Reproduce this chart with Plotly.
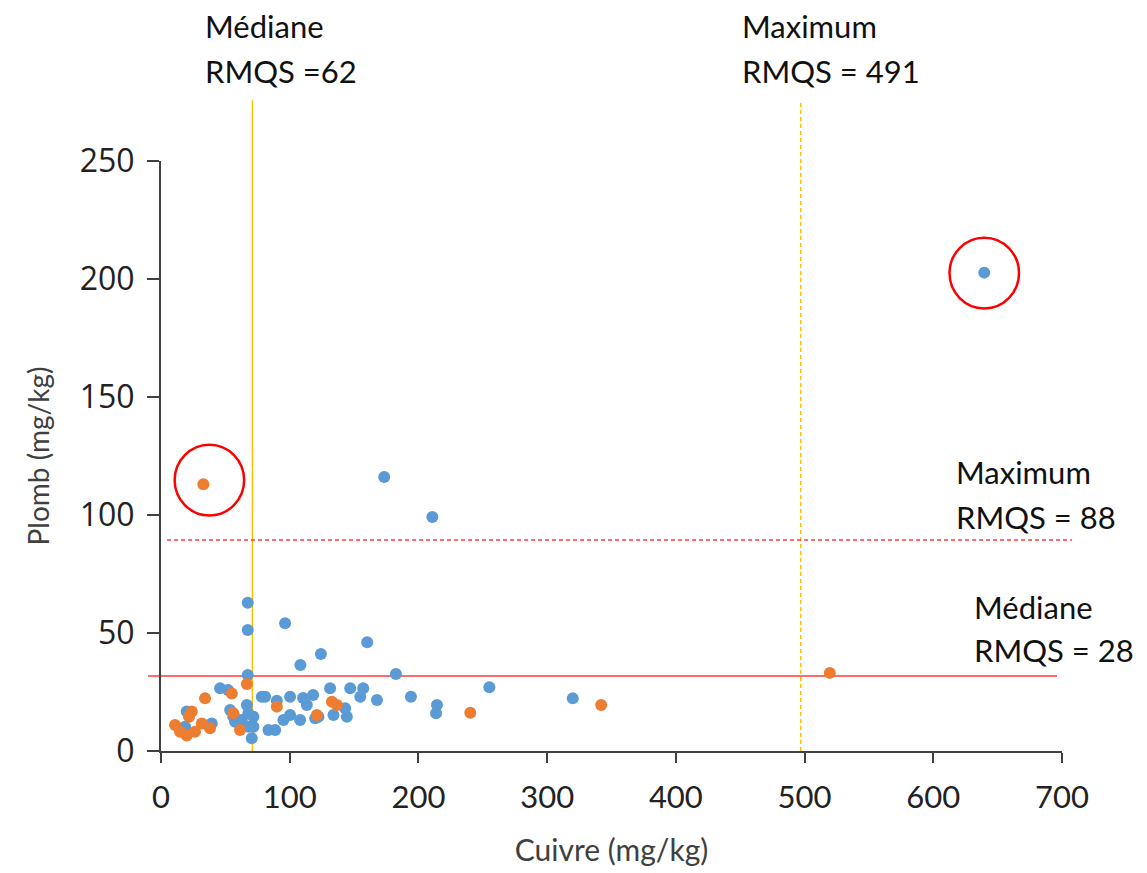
import plotly.graph_objects as go

# ---- data ----
blue_cu = [639.6, 173.4, 210.8, 67.4, 67.4, 96.4, 160.2, 124.2, 108.3, 67.4,
           182.5, 255.1, 319.9, 214.4, 213.7, 194.2, 167.8, 157.1, 147.0, 131.4,
           154.8, 144.4, 143.1, 134.0, 122.3, 119.8, 118.2, 110.4, 113.3, 100.3,
           90.0, 80.9, 108.1, 100.3, 95.1, 88.7, 83.5, 70.5, 71.8, 67.9,
           60.1, 71.8, 67.9, 66.7, 53.7, 56.2, 52.1, 45.9, 39.4, 20.0,
           18.7, 78.3, 57.6, 62.8]
blue_pb = [202.7, 116.1, 99.2, 62.8, 51.3, 54.1, 46.1, 41.1, 36.4, 32.2,
           32.6, 27.0, 22.3, 19.5, 16.0, 23.0, 21.6, 26.6, 26.6, 26.6,
           23.0, 14.5, 18.1, 15.3, 14.5, 13.9, 23.7, 22.5, 19.5, 23.0,
           21.3, 23.0, 13.1, 15.3, 13.1, 8.9, 8.9, 5.4, 10.3, 10.3,
           13.1, 14.5, 16.0, 19.5, 17.4, 14.5, 25.8, 26.6, 11.7, 16.7,
           10.3, 23.0, 12.4, 13.1]

orange_cu = [32.9, 519.6, 342.0, 240.3, 66.7, 55.0, 34.2, 23.9, 21.8, 10.9,
             14.8, 20.0, 26.4, 31.7, 38.1, 56.2, 61.4, 90.0, 121.1, 132.8, 136.7]
orange_pb = [113.0, 33.1, 19.5, 16.2, 28.4, 24.4, 22.3, 16.7, 14.5, 11.0,
             8.2, 6.6, 8.2, 11.7, 9.6, 16.0, 8.9, 18.8, 15.3, 20.9, 19.5]

# reference lines (as drawn)
med_cu, max_cu = 71, 497
med_pb, max_pb = 31.8, 89.4

# highlighted outliers (circle centres)
circle_cu = [37.6, 639.6]
circle_pb = [114.8, 202.5]
circle_rx, circle_ry = 27, 15

x_ticks = [0, 100, 200, 300, 400, 500, 600, 700]
y_ticks = [0, 50, 100, 150, 200, 250]

label_lines = [
    ("Médiane", 0.0466, 1.2288),
    ("RMQS =62", 0.0466, 1.1525),
    ("Maximum", 0.6426, 1.2288),
    ("RMQS = 491", 0.6426, 1.1525),
    ("Maximum", 0.8801, 0.4729),
    ("RMQS = 88", 0.8801, 0.3966),
    ("Médiane", 0.9001, 0.2441),
    ("RMQS = 28", 0.9001, 0.1712),
]

BLUE = "#5B9BD5"
ORANGE = "#ED7D31"
GOLD = "#FFC000"
RED = "#FF3B3B"
AXIS = "#404040"
CAL = "Lato, Open Sans, sans-serif"
WIDE = "Open Sans, DejaVu Sans, sans-serif"

fig = go.Figure()
fig.add_trace(go.Scatter(x=blue_cu, y=blue_pb, mode="markers",
                         marker=dict(color=BLUE, size=12), showlegend=False))
fig.add_trace(go.Scatter(x=orange_cu, y=orange_pb, mode="markers",
                         marker=dict(color=ORANGE, size=12), showlegend=False))

shapes = []
shapes.append(dict(type="line", xref="x", yref="paper", x0=med_cu, x1=med_cu,
                   y0=0, y1=1.103, line=dict(color=GOLD, width=1.5), layer="below"))
shapes.append(dict(type="line", xref="x", yref="paper", x0=max_cu, x1=max_cu,
                   y0=0, y1=1.103, line=dict(color=GOLD, width=1.5, dash="4px,3px"), layer="below"))
shapes.append(dict(type="line", xref="paper", yref="y", x0=-0.0144, x1=0.9945,
                   y0=med_pb, y1=med_pb, line=dict(color=RED, width=1.5), layer="below"))
shapes.append(dict(type="line", xref="paper", yref="y", x0=0.0067, x1=1.011,
                   y0=max_pb, y1=max_pb, line=dict(color=RED, width=1.5, dash="4px,3px"), layer="below"))
for cx, cy in zip(circle_cu, circle_pb):
    shapes.append(dict(type="circle", xref="x", yref="y",
                       x0=cx - circle_rx, x1=cx + circle_rx,
                       y0=cy - circle_ry, y1=cy + circle_ry,
                       line=dict(color="#FF0000", width=2.5)))

annotations = []
for txt, ax_, ay_ in label_lines:
    annotations.append(dict(text=txt, xref="paper", yref="paper", x=ax_, y=ay_,
                            xanchor="left", yanchor="middle", align="left",
                            showarrow=False,
                            font=dict(family=CAL, size=31, color="#111111")))

fig.update_layout(
    width=1147, height=873,
    margin=dict(l=161, r=85, t=161, b=122),
    paper_bgcolor="white", plot_bgcolor="white",
    shapes=shapes, annotations=annotations,
    xaxis=dict(range=[0, 700], tickvals=x_ticks, ticktext=[str(v) for v in x_ticks],
               showgrid=False, zeroline=False, showline=True, linecolor=AXIS, linewidth=2,
               ticks="outside", ticklen=10, tickwidth=2, tickcolor=AXIS,
               ticklabelstandoff=8,
               tickfont=dict(family=CAL, size=31, color="#222222"),
               title=dict(text="Cuivre (mg/kg)", standoff=26,
                          font=dict(family=CAL, size=30, color="#404040"))),
    yaxis=dict(range=[0, 250], tickvals=y_ticks, ticktext=[str(v) for v in y_ticks],
               showgrid=False, zeroline=False, showline=True, linecolor=AXIS, linewidth=2,
               ticks="outside", ticklen=12, tickwidth=2, tickcolor=AXIS,
               ticklabelstandoff=6,
               tickfont=dict(family=WIDE, size=32, color="#222222"),
               title=dict(text="Plomb (mg/kg)", standoff=22,
                          font=dict(family=CAL, size=28, color="#404040"))),
)

fig.write_html("out.html")
